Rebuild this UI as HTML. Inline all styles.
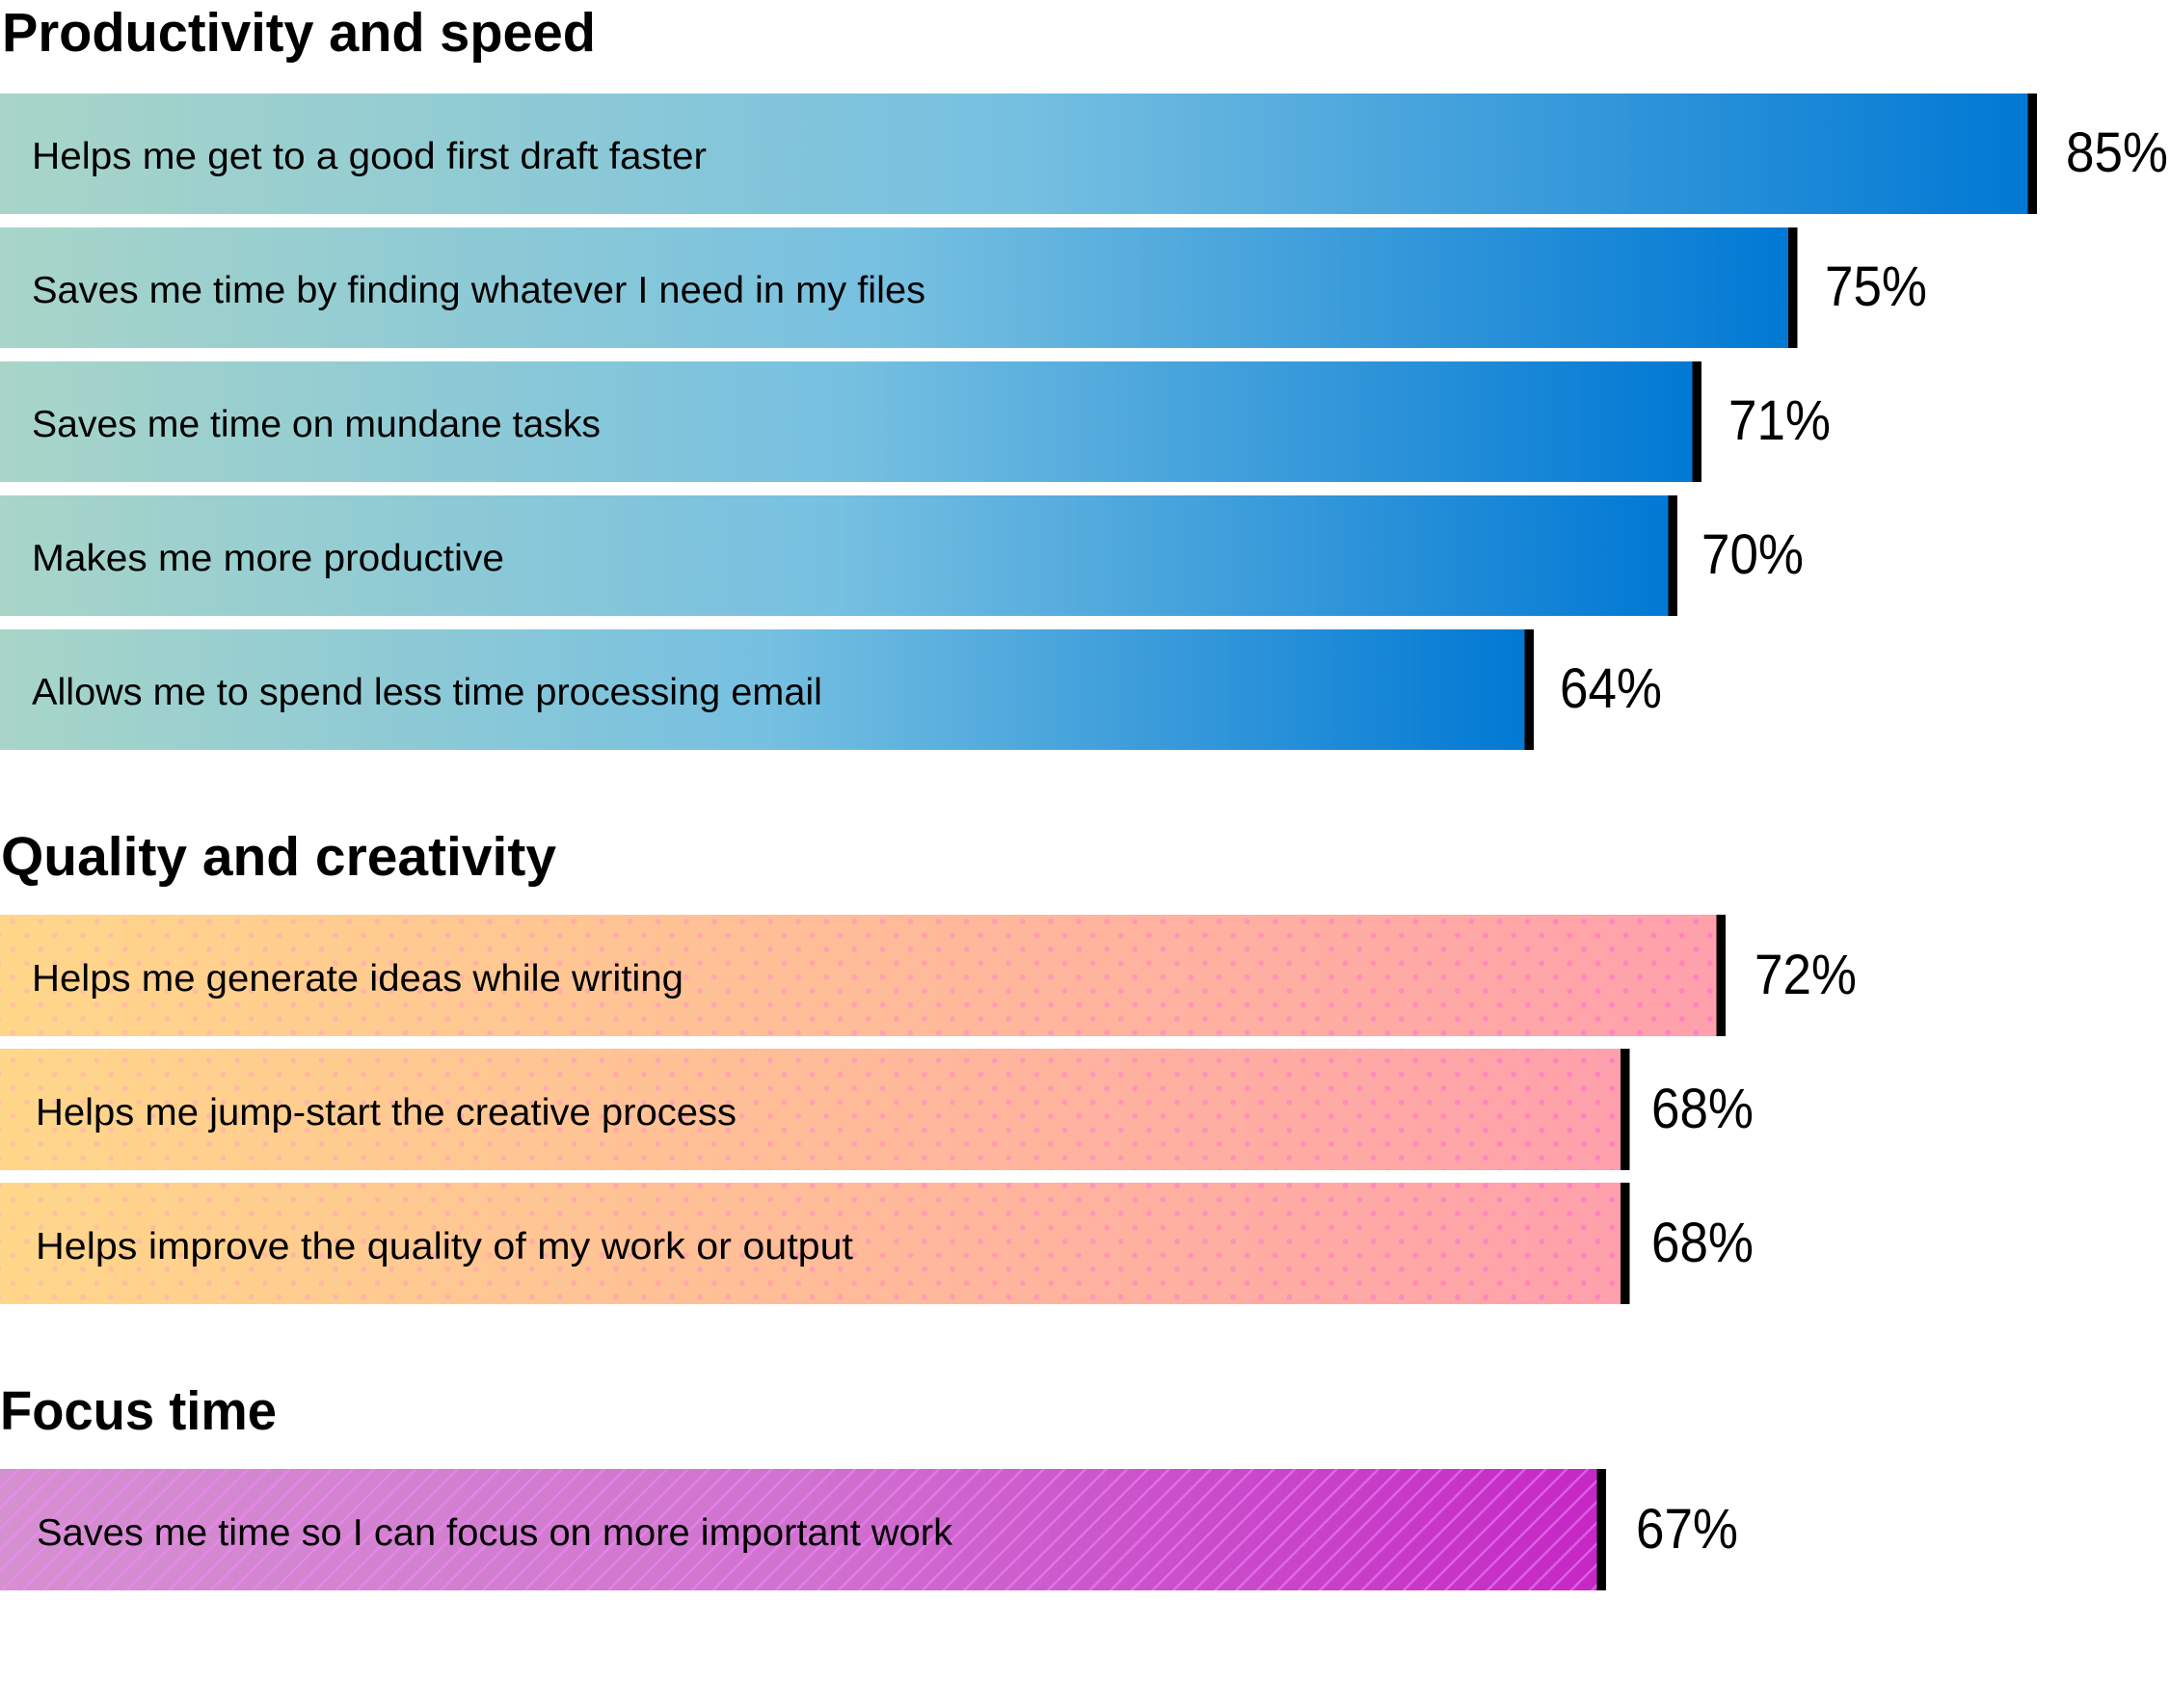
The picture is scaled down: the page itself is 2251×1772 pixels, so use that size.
<!DOCTYPE html>
<html>
<head>
<meta charset="utf-8">
<style>
  html, body { margin: 0; padding: 0; background: #ffffff; }
  svg { display: block; }
  .t { font-family: "Liberation Sans", "DejaVu Sans", sans-serif; font-weight: bold; font-size: 57px; fill: #000; }
  .l { font-family: "Liberation Sans", "DejaVu Sans", sans-serif; font-size: 39px; fill: #000; }
  .p { font-family: "Liberation Sans", "DejaVu Sans", sans-serif; font-size: 58px; fill: #000; }
</style>
</head>
<body>
<svg xmlns="http://www.w3.org/2000/svg" width="2251" height="1772" viewBox="0 0 2251 1772">
  <defs>
    <linearGradient id="gBlue" x1="0" y1="0" x2="1" y2="0">
      <stop offset="0" stop-color="#a8d5c8"/>
      <stop offset="0.5" stop-color="#76c0e1"/>
      <stop offset="1" stop-color="#0078d4"/>
    </linearGradient>
    <linearGradient id="gOrange" x1="0" y1="0" x2="1" y2="0">
      <stop offset="0" stop-color="#ffd78a"/>
      <stop offset="0.5" stop-color="#ffbc98"/>
      <stop offset="1" stop-color="#ffa0ac"/>
    </linearGradient>
    <linearGradient id="gDot" x1="0" y1="0" x2="1" y2="0">
      <stop offset="0" stop-color="#ffc2a2"/>
      <stop offset="1" stop-color="#ff80c2"/>
    </linearGradient>
    <linearGradient id="gPurple" x1="0" y1="0" x2="1" y2="0">
      <stop offset="0" stop-color="#d590d0"/>
      <stop offset="0.5" stop-color="#d072cf"/>
      <stop offset="1" stop-color="#c526c5"/>
    </linearGradient>
    <pattern id="dots" patternUnits="userSpaceOnUse" x="0" y="0" width="29.1" height="28.86">
      <circle cx="13.3" cy="3.62" r="2.9" fill="#fff"/>
      <circle cx="27.85" cy="18.05" r="2.9" fill="#fff"/>
      <circle cx="-1.25" cy="18.05" r="2.9" fill="#fff"/>
    </pattern>
    <mask id="dotMask" maskUnits="userSpaceOnUse" x="0" y="0" width="2251" height="1772">
      <rect x="0" y="0" width="2251" height="1772" fill="url(#dots)"/>
    </mask>
    <pattern id="stripes" patternUnits="userSpaceOnUse" width="15.35" height="15.35" patternTransform="rotate(45)">
      <rect x="0" y="0" width="2.4" height="15.35" fill="#f288ff" fill-opacity="0.55"/>
    </pattern>
  </defs>

  <rect x="0" y="0" width="2251" height="1772" fill="#ffffff"/>

  <!-- Section 1 -->
  <text class="t" x="2" y="53" textLength="616" lengthAdjust="spacingAndGlyphs">Productivity and speed</text>

  <rect x="0" y="97" width="2113" height="125" fill="url(#gBlue)"/>
  <rect x="2103.5" y="97" width="9.5" height="125" fill="#000"/>
  <text class="l" x="33" y="175" textLength="700" lengthAdjust="spacingAndGlyphs">Helps me get to a good first draft faster</text>
  <text class="p" x="2143" y="178" textLength="106" lengthAdjust="spacingAndGlyphs">85%</text>

  <rect x="0" y="236" width="1864.5" height="125" fill="url(#gBlue)"/>
  <rect x="1855" y="236" width="9.5" height="125" fill="#000"/>
  <text class="l" x="33" y="314" textLength="927" lengthAdjust="spacingAndGlyphs">Saves me time by finding whatever I need in my files</text>
  <text class="p" x="1893" y="317" textLength="106" lengthAdjust="spacingAndGlyphs">75%</text>

  <rect x="0" y="375" width="1765" height="125" fill="url(#gBlue)"/>
  <rect x="1755.5" y="375" width="9.5" height="125" fill="#000"/>
  <text class="l" x="33" y="453" textLength="590" lengthAdjust="spacingAndGlyphs">Saves me time on mundane tasks</text>
  <text class="p" x="1793" y="456" textLength="106" lengthAdjust="spacingAndGlyphs">71%</text>

  <rect x="0" y="514" width="1740" height="125" fill="url(#gBlue)"/>
  <rect x="1730.5" y="514" width="9.5" height="125" fill="#000"/>
  <text class="l" x="33" y="592" textLength="490" lengthAdjust="spacingAndGlyphs">Makes me more productive</text>
  <text class="p" x="1765" y="595" textLength="106" lengthAdjust="spacingAndGlyphs">70%</text>

  <rect x="0" y="653" width="1591" height="125" fill="url(#gBlue)"/>
  <rect x="1581.5" y="653" width="9.5" height="125" fill="#000"/>
  <text class="l" x="33" y="731" textLength="820" lengthAdjust="spacingAndGlyphs">Allows me to spend less time processing email</text>
  <text class="p" x="1618" y="734" textLength="106" lengthAdjust="spacingAndGlyphs">64%</text>

  <!-- Section 2 -->
  <text class="t" x="1" y="908" textLength="576" lengthAdjust="spacingAndGlyphs">Quality and creativity</text>

  <rect x="0" y="949" width="1790" height="126" fill="url(#gOrange)"/>
  <rect x="0" y="949" width="1790" height="126" fill="url(#gDot)" mask="url(#dotMask)"/>
  <rect x="1780.5" y="949" width="9.5" height="126" fill="#000"/>
  <text class="l" x="33" y="1028" textLength="676" lengthAdjust="spacingAndGlyphs">Helps me generate ideas while writing</text>
  <text class="p" x="1820" y="1031" textLength="106" lengthAdjust="spacingAndGlyphs">72%</text>

  <rect x="0" y="1088" width="1690.5" height="126" fill="url(#gOrange)"/>
  <rect x="0" y="1088" width="1690.5" height="126" fill="url(#gDot)" mask="url(#dotMask)"/>
  <rect x="1681" y="1088" width="9.5" height="126" fill="#000"/>
  <text class="l" x="37" y="1167" textLength="727" lengthAdjust="spacingAndGlyphs">Helps me jump-start the creative process</text>
  <text class="p" x="1713" y="1170" textLength="106" lengthAdjust="spacingAndGlyphs">68%</text>

  <rect x="0" y="1227" width="1690.5" height="126" fill="url(#gOrange)"/>
  <rect x="0" y="1227" width="1690.5" height="126" fill="url(#gDot)" mask="url(#dotMask)"/>
  <rect x="1681" y="1227" width="9.5" height="126" fill="#000"/>
  <text class="l" x="37" y="1306" textLength="848" lengthAdjust="spacingAndGlyphs">Helps improve the quality of my work or output</text>
  <text class="p" x="1713" y="1309" textLength="106" lengthAdjust="spacingAndGlyphs">68%</text>

  <!-- Section 3 -->
  <text class="t" x="0" y="1483" textLength="287" lengthAdjust="spacingAndGlyphs">Focus time</text>

  <rect x="0" y="1524" width="1666" height="126" fill="url(#gPurple)"/>
  <rect x="0" y="1524" width="1666" height="126" fill="url(#stripes)"/>
  <rect x="1656.5" y="1524" width="9.5" height="126" fill="#000"/>
  <text class="l" x="38" y="1603" textLength="950" lengthAdjust="spacingAndGlyphs">Saves me time so I can focus on more important work</text>
  <text class="p" x="1697" y="1606" textLength="106" lengthAdjust="spacingAndGlyphs">67%</text>
</svg>
</body>
</html>
